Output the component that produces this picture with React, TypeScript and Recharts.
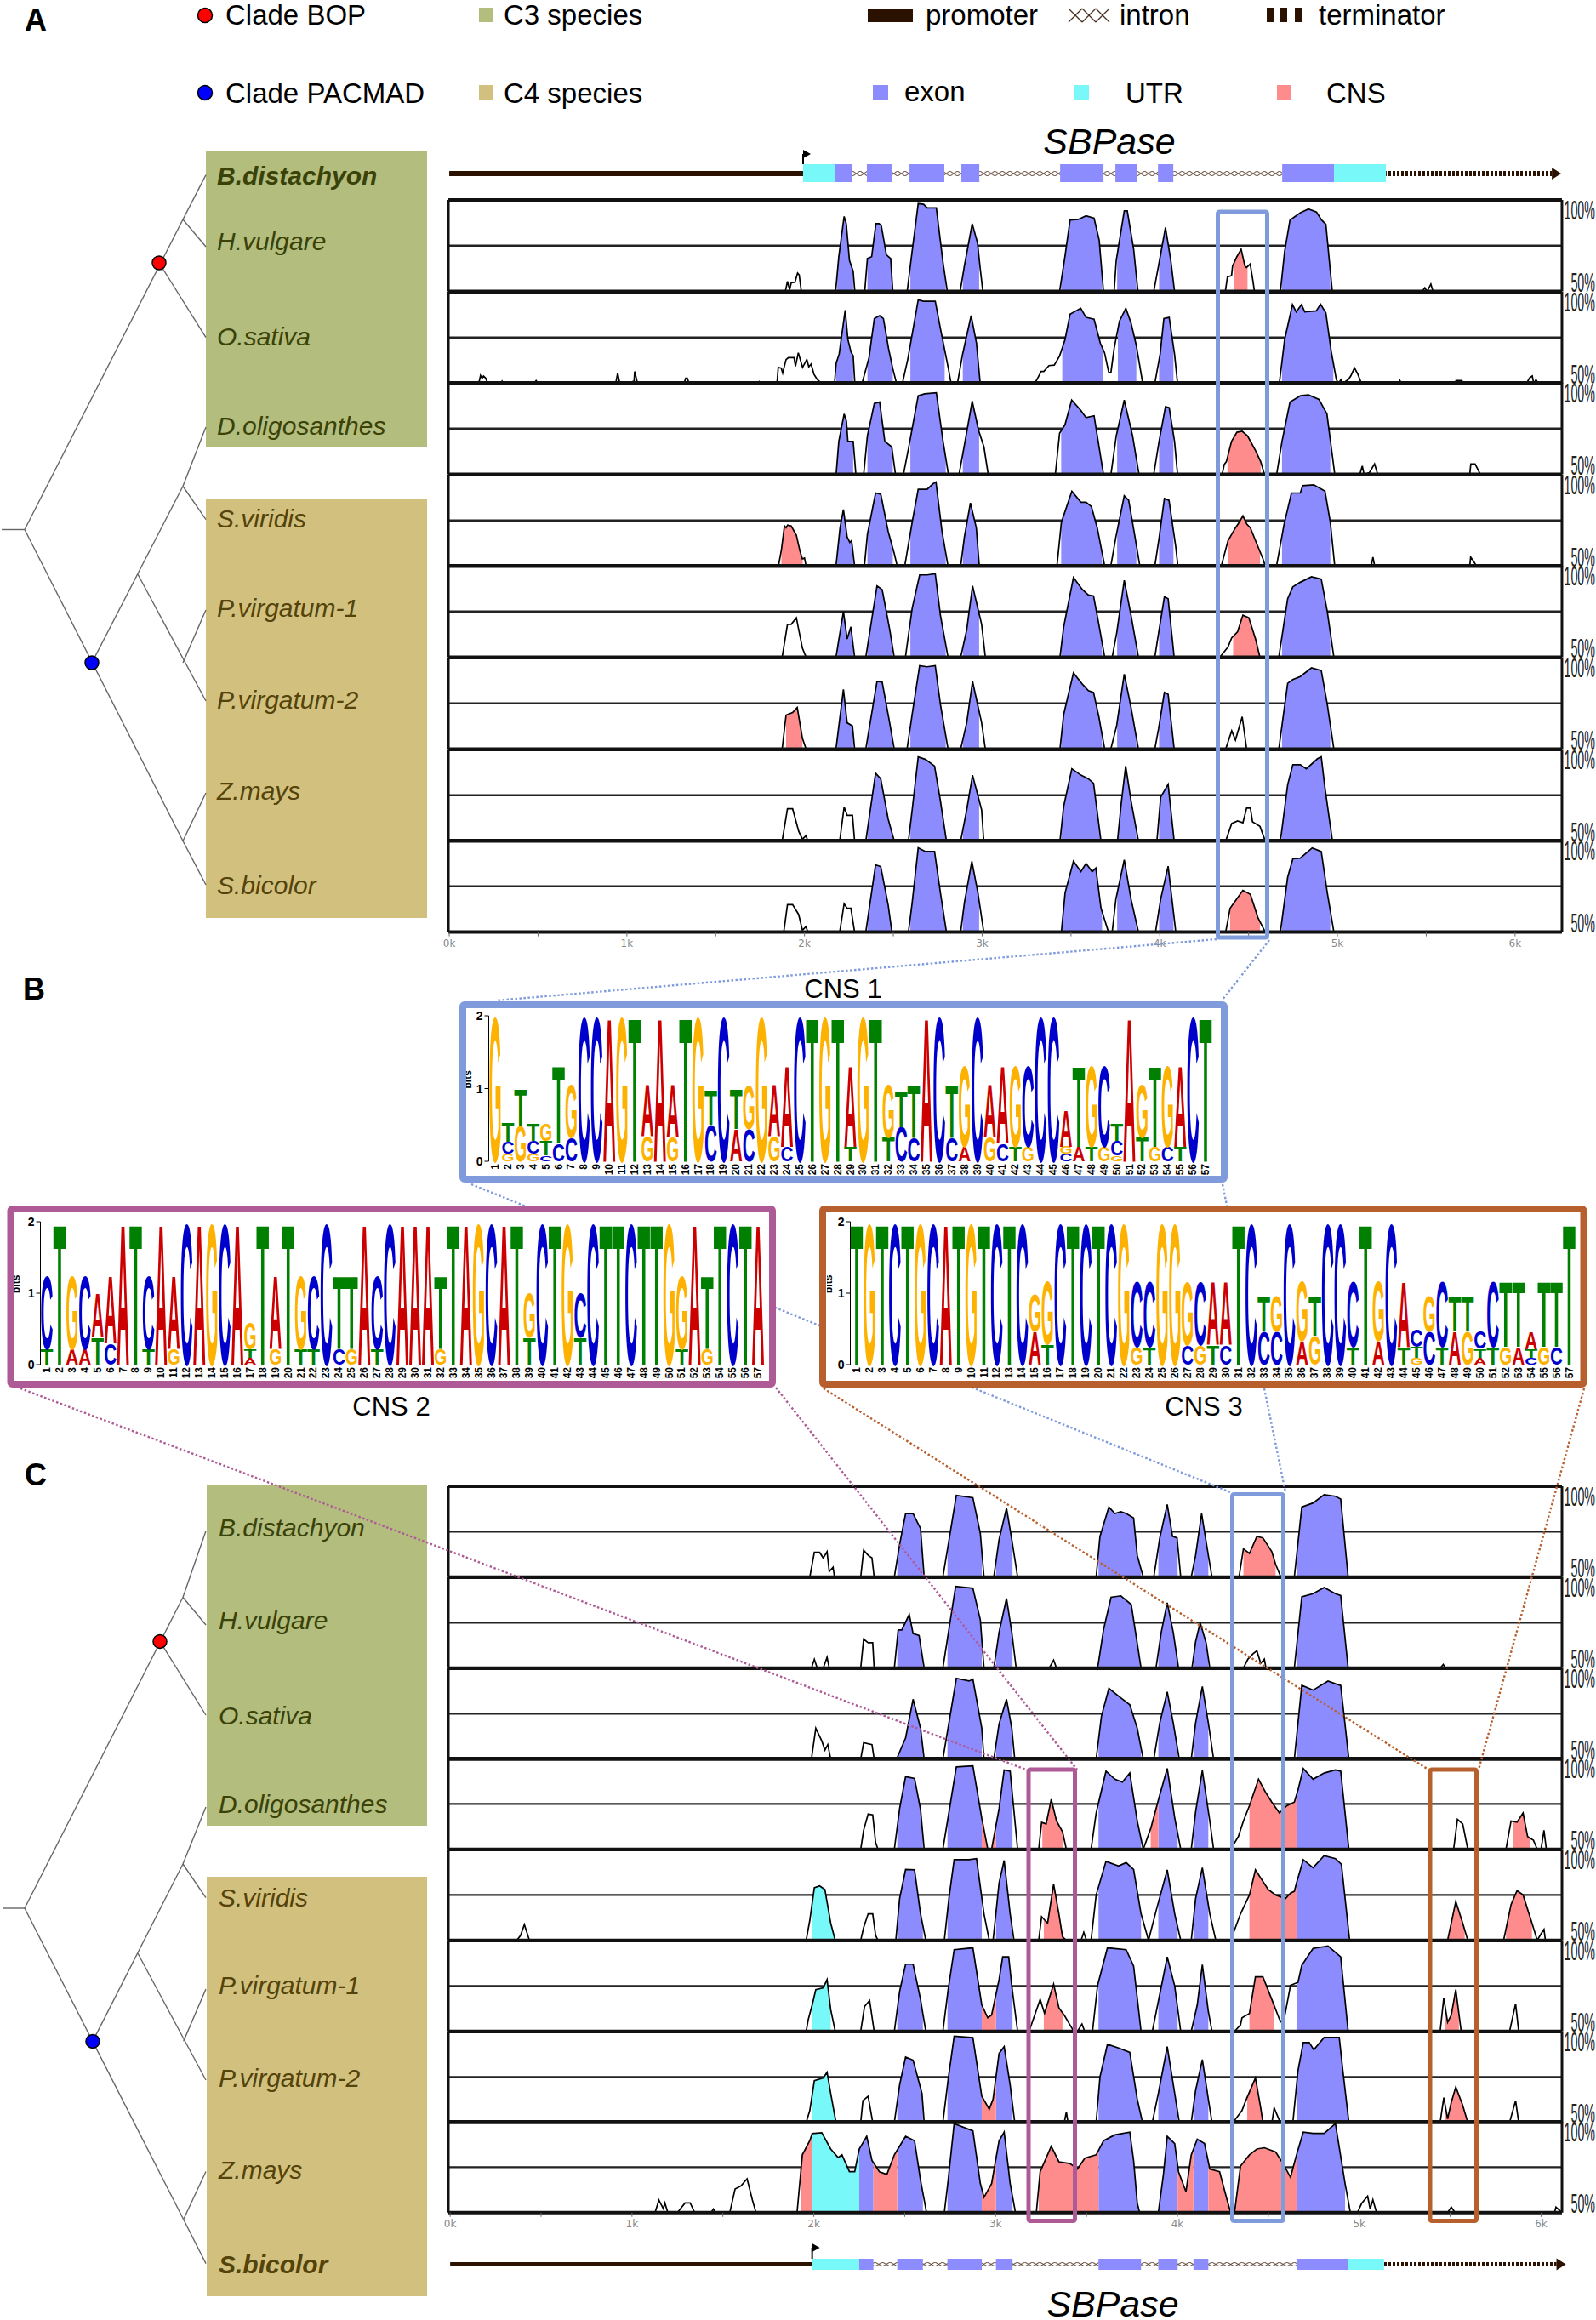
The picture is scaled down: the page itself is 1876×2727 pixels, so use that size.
import { ComposedChart, BarChart, Bar, Area, Line, XAxis, YAxis, CartesianGrid, ReferenceLine, ReferenceArea, ReferenceDot } from 'recharts';

const FONT = '"Liberation Sans", Arial, sans-serif';
const EXON = '#8c8cff';
const CNS = '#ff8c8c';
const UTR = '#78f8f8';
const BLUE = '#7f9bdc';
const PURPLE = '#ad5a96';
const BROWN = '#b85f2e';
const C3 = '#b3bd7e';
const C4 = '#d2c17e';
const DARK = '#2b1100';

// --- panel A curves: [position in bp, % identity]
const aHvulgare = [[1892,50],[1904,55.5],[1916,51],[1925,54.7],[1946,55],[1961,60],[1970,59],[1982,50],[2175,50],[2193,69],[2223,91],[2235,87],[2253,67],[2274,61],[2283,50],[2339,50],[2354,68],[2378,69],[2402,87],[2420,87],[2432,86],[2461,70],[2485,68],[2497,50],[2578,50],[2602,69],[2640,98],[2670,97.6],[2691,95.6],[2742,95.6],[2780,65.6],[2804,50],[2876,50],[2900,64],[2944,87],[2974,76.5],[2989,62.5],[3004,50],[3436,50],[3466,69],[3495,89],[3540,89.3],[3585,91.3],[3630,90],[3659,78],[3683,50],[3743,50],[3755,67],[3800,94],[3817,94],[3853,73],[3877,50],[3966,50],[3993,64],[4032,85],[4062,67],[4083,50],[4369,50],[4381,58],[4404,58.6],[4410,64],[4434,69],[4458,73],[4479,64],[4488,63],[4509,65],[4524,56],[4533,50],[4679,50],[4703,72],[4733,89],[4792,93],[4837,95],[4882,93.4],[4911,89],[4935,86.7],[4971,50],[5477,50],[5492,52],[5505,50],[5526,54],[5538,50]];
const aOsativa = [[166,50],[176,54.3],[185,52.8],[193,54],[205,52.8],[217,50],[290,50],[297,51.2],[303,50],[478,50],[489,51.5],[500,50],[937,50],[948,55.6],[960,50],[1028,50],[1034,51],[1040,50.5],[1044,56.5],[1060,50],[1322,50],[1331,52.8],[1340,52.8],[1350,50],[1735,50],[1745,51],[1755,50],[1845,50],[1852,58.7],[1869,58.3],[1877,55.6],[1896,63],[1909,64],[1941,64],[1949,59.3],[1965,66.7],[1989,58.7],[2013,63],[2024,59],[2037,60.5],[2053,55],[2072,52],[2085,51],[2105,50],[2169,50],[2178,61],[2195,66],[2229,90],[2244,74],[2262,67],[2274,65],[2283,50],[2324,50],[2363,64],[2393,85.4],[2423,87],[2444,85.4],[2473,69],[2497,58],[2518,50],[2551,50],[2581,63],[2640,95.6],[2670,94.8],[2736,94.8],[2765,80],[2810,58],[2825,50],[2861,50],[2890,66],[2938,87],[2968,72],[2989,50],[3296,50],[3308,52],[3332,56.5],[3347,56.5],[3376,59.7],[3406,60],[3436,65],[3466,73.7],[3495,87.8],[3555,91],[3585,86],[3630,85],[3665,72],[3689,66.7],[3713,55.8],[3725,56],[3743,69],[3773,84],[3809,91],[3838,83],[3868,70.6],[3904,50],[3972,50],[4002,66],[4023,85.4],[4053,86],[4083,66],[4100,50],[4673,50],[4703,74],[4747,93],[4768,89],[4798,93],[4816,89],[4881,89.6],[4905,93.2],[4935,88.5],[4965,67.5],[4994,52],[5006,50],[5020,52],[5030,50],[5060,52],[5075,54],[5096,58.4],[5115,55],[5135,50],[5345,50],[5352,51.5],[5360,50],[5662,50],[5668,51.5],[5700,51.5],[5712,50],[6065,50],[6082,53],[6097,54],[6105,50],[6118,52],[6130,50]];
const aDoligosanthes = [[2178,50],[2193,68],[2223,83],[2236,79],[2244,68],[2274,68],[2289,50],[2333,50],[2354,71],[2393,88.8],[2423,89.5],[2452,68],[2491,65],[2512,50],[2557,50],[2587,65],[2640,93],[2676,94],[2742,94.6],[2780,68],[2810,50],[2870,50],[2900,66],[2944,90],[2980,74],[3010,65],[3034,50],[3412,50],[3436,72.5],[3466,77],[3504,90.6],[3555,85],[3585,81],[3630,82],[3683,50],[3725,50],[3755,71],[3800,90.6],[3847,71],[3883,50],[3966,50],[3996,68],[4032,87],[4053,86.4],[4083,68],[4100,50],[4351,50],[4363,55.4],[4375,57],[4404,68],[4434,73],[4464,73.5],[4494,71],[4539,63],[4568,57],[4589,50],[4658,50],[4688,68],[4733,89.5],[4792,93],[4837,93.4],[4896,91],[4941,83],[4985,50],[5126,50],[5140,54.6],[5150,50],[5180,51],[5209,55.7],[5227,50],[5745,50],[5751,55.7],[5775,55.7],[5805,50]];
const aSviridis = [[1853,50],[1870,59],[1887,72],[1896,71],[1905,72.5],[1925,72],[1954,67],[1975,58],[1988,54],[2000,54.5],[2009,50],[2177,50],[2200,71],[2219,81],[2240,66],[2255,63],[2265,64],[2282,50],[2337,50],[2354,67.4],[2400,90],[2429,89.4],[2471,69],[2505,57],[2522,50],[2564,50],[2606,74],[2640,92],[2690,92],[2723,95],[2740,96],[2774,69],[2808,50],[2879,50],[2900,66],[2934,84.6],[2967,71],[2984,50],[3421,50],[3446,74],[3505,91],[3556,85],[3585,85],[3615,82.6],[3648,71],[3690,50],[3724,50],[3753,66],[3800,88.5],[3825,86],[3858,67.4],[3888,50],[3972,50],[3997,66],[4026,87],[4052,86],[4090,60.6],[4102,50],[4346,50],[4384,64],[4426,71],[4447,74],[4468,77.5],[4490,73],[4510,71],[4539,64],[4581,54],[4594,50],[4657,50],[4699,72.5],[4741,90],[4791,90],[4804,94],[4867,94.5],[4930,91],[4960,74],[4985,50],[5190,50],[5200,55],[5210,50],[5745,50],[5750,55],[5765,53],[5780,50.5],[5800,50.5],[5810,50]];
const aPvirgatum1 = [[1874,50],[1904,68],[1925,68],[1954,71.6],[1988,55],[2009,50],[2177,50],[2219,75],[2240,60],[2261,66.6],[2282,50],[2345,50],[2408,89],[2437,87],[2480,65],[2505,50],[2568,50],[2606,76.7],[2648,95],[2690,95],[2736,95.6],[2765,73],[2808,50],[2879,50],[2913,65],[2946,89],[2997,68],[3018,50],[3438,50],[3459,66.6],[3514,93.6],[3564,87],[3598,84],[3627,83.5],[3657,68],[3690,50],[3732,50],[3757,63],[3800,92],[3838,73],[3880,50],[3972,50],[3993,63],[4026,83],[4047,82],[4081,50],[4342,50.5],[4384,55.6],[4405,60.6],[4438,64],[4468,73],[4501,71.6],[4539,60],[4564,50],[4670,50],[4720,82],[4749,88.5],[4791,91],[4854,94],[4909,92.7],[4943,75],[4980,50]];
const aPvirgatum2 = [[1874,50],[1896,68.6],[1933,70],[1959,72.8],[1988,56],[2009,50],[2177,50],[2219,82.6],[2240,64.4],[2270,62.7],[2282,50],[2345,50],[2408,87],[2437,86.7],[2480,64],[2505,50],[2577,50],[2606,69],[2648,95.6],[2690,95],[2736,95.6],[2765,74.5],[2808,50],[2879,50],[2913,64.4],[2946,87],[2997,64.4],[3018,50],[3438,50],[3459,69],[3514,91.7],[3564,85.5],[3598,82],[3627,81],[3657,67.7],[3690,50],[3724,50],[3757,62.7],[3800,91],[3838,72.8],[3880,50],[3972,50],[3993,61],[4026,81],[4047,80],[4081,50],[4371,50],[4405,60],[4426,55],[4464,67.7],[4489,50],[4670,50],[4720,86],[4749,88],[4791,89.7],[4854,94.4],[4909,93],[4943,74.5],[4980,50]];
const aZmays = [[1874,50],[1904,67.6],[1933,67.6],[1967,55.4],[1988,51],[2009,53],[2018,50],[2198,50],[2223,68.6],[2240,64],[2270,64],[2282,50],[2345,50],[2400,87],[2429,84],[2471,62],[2505,50],[2585,50],[2606,67],[2640,96],[2681,94.6],[2732,91],[2765,72],[2799,50],[2879,50],[2913,67],[2946,86],[2997,67],[3009,50],[3438,50],[3459,69],[3505,89.5],[3556,86],[3598,84],[3627,81.6],[3669,50],[3762,50],[3783,70.6],[3808,91],[3838,72],[3880,50],[3984,50],[4005,74],[4047,81],[4081,50],[4371,50],[4405,59.6],[4438,61],[4468,60],[4489,68],[4510,68],[4522,60.5],[4564,58],[4594,50],[4679,50],[4720,80.8],[4749,91.7],[4791,91.7],[4825,89.5],[4888,95],[4909,96],[4930,79],[4972,50]];
const aSbicolor = [[1883,50],[1904,65],[1933,65],[1967,59.6],[1988,51],[2009,53],[2018,50],[2198,50],[2223,65.5],[2240,63],[2261,63],[2282,50],[2345,50],[2400,86.7],[2429,85.8],[2471,64.7],[2492,50],[2585,50],[2606,66],[2640,96],[2681,94],[2732,94],[2765,71.5],[2799,50],[2879,50],[2900,66],[2942,88.7],[2976,71.5],[3009,50],[3446,50],[3467,71.5],[3514,88.7],[3556,83],[3585,87.5],[3619,83],[3640,85],[3669,63],[3711,50],[3732,50],[3753,68],[3800,89.5],[3838,68],[3880,50],[3976,50],[4005,68],[4047,86],[4090,50],[4371,50],[4396,63],[4468,72.8],[4510,70.6],[4552,58],[4594,50],[4679,50],[4720,80],[4749,90],[4791,90.4],[4858,96],[4909,94],[4943,71.5],[4980,50]];

// --- panel C curves
const cBdistachyon = [[1978,50],[2003,63.6],[2032,63.6],[2052,60.5],[2073,64],[2085,53],[2106,55.4],[2114,50],[2258,50],[2274,64.8],[2299,62],[2320,60.5],[2332,50],[2443,50],[2472,68],[2505,85],[2546,85],[2587,76.7],[2607,50],[2710,50],[2784,95],[2875,93.7],[2916,74],[2936,50],[2990,50],[3019,70.7],[3060,88],[3089,70.7],[3121,50],[3553,50],[3574,72.4],[3623,88.6],[3656,85],[3689,86],[3718,85],[3759,82.6],[3779,62],[3812,50],[3870,50],[3903,71.6],[3944,90],[3973,72.4],[3998,71.6],[4018,50],[4076,50],[4100,62],[4133,85],[4170,62],[4190,50],[4339,50],[4363,65.6],[4396,63],[4437,72.4],[4470,71.6],[4519,64],[4540,57],[4569,50],[4643,50],[4684,88.6],[4746,90.8],[4807,95.4],[4869,94.5],[4898,93],[4939,50]];
const cHvulgare = [[1987,50],[2003,54.8],[2019,50],[2052,50],[2073,56],[2085,50],[2258,50],[2274,66],[2299,64],[2324,64],[2332,50],[2443,50],[2464,71],[2484,71],[2525,79.5],[2546,69],[2579,68],[2607,50],[2710,50],[2780,95],[2875,94],[2916,76.5],[2936,50],[2990,50],[3019,69.7],[3060,88.4],[3089,69.7],[3113,50],[3295,50],[3319,54.4],[3335,50],[3561,50],[3594,71.4],[3635,89],[3689,89.8],[3746,85],[3800,50],[3882,50],[3911,69.7],[3944,86],[3977,69.7],[4006,50],[4080,50],[4100,64.6],[4125,75],[4158,63.8],[4178,50],[4363,50],[4388,55],[4417,58],[4437,59.5],[4458,52.7],[4478,55],[4487,50],[4643,50],[4684,89.3],[4746,91],[4807,94.4],[4869,91],[4898,90],[4939,50],[5445,50],[5462,52],[5475,50]];
const cOsativa = [[1987,50],[2011,67],[2044,60],[2061,55],[2077,58],[2093,50],[2258,50],[2274,59],[2320,58],[2332,50],[2455,50],[2505,61.7],[2546,83],[2587,67],[2607,50],[2710,50],[2784,94.5],[2854,93],[2875,94],[2924,67],[2936,50],[2990,50],[3019,69.4],[3060,83],[3089,67],[3105,50],[3553,50],[3582,73.6],[3623,89],[3676,84.7],[3738,80],[3779,67],[3812,50],[3870,50],[3903,70],[3944,87],[3977,70],[4010,50],[4076,50],[4100,70],[4137,90],[4170,70],[4199,50],[4643,50],[4684,90.6],[4746,88],[4828,93],[4869,91.5],[4898,90.6],[4943,50]];
const cDoligosanthes = [[2258,50],[2274,60.5],[2299,69.4],[2324,69],[2340,53.7],[2353,50],[2443,50],[2472,72.4],[2505,90],[2554,89],[2587,72],[2607,50],[2710,50],[2784,95.4],[2875,96],[2924,67],[2957,50],[2978,50],[3019,72.4],[3047,93.7],[3080,93],[3121,50],[3237,50],[3253,64.8],[3278,64],[3306,77.5],[3335,65.6],[3368,59.7],[3389,50],[3525,50],[3553,70],[3607,93],[3656,88.6],[3697,87],[3738,92],[3779,65.6],[3812,50],[3853,61.4],[3903,80],[3944,94.5],[3985,67.4],[4018,50],[4076,50],[4100,70.7],[4137,93.4],[4178,65.6],[4199,50],[4293,50],[4335,57],[4363,65.6],[4396,74],[4446,88.6],[4487,81],[4519,76],[4561,70],[4602,74],[4643,76],[4663,82.6],[4692,94.5],[4746,88.6],[4807,92],[4869,93.7],[4898,93],[4943,50],[5519,50],[5540,66.5],[5569,64],[5597,50],[5807,50],[5835,65.6],[5868,65],[5901,70],[5926,57],[5958,55],[5979,50],[6000,50],[6016,60.5],[6029,50]];
const cSviridis = [[366,50],[387,52.7],[408,58.7],[436,50],[1958,50],[1978,61],[2003,79],[2032,80],[2061,78],[2093,59.5],[2118,50],[2258,50],[2274,57],[2299,64.6],[2324,64.6],[2340,52.7],[2353,50],[2451,50],[2472,73],[2505,89],[2554,88.8],[2587,64.6],[2616,50],[2718,50],[2743,73],[2772,94.4],[2854,94.4],[2895,95],[2936,64.6],[2965,50],[2986,50],[3019,81.6],[3047,94],[3080,64.6],[3101,50],[3237,50],[3253,63],[3286,59.5],[3319,81],[3348,64.6],[3368,52],[3389,50],[3470,50],[3485,54.4],[3500,50],[3525,50],[3553,75],[3607,93.5],[3676,91],[3718,92.8],[3759,89],[3800,64.6],[3841,50],[3882,66],[3944,88.8],[3985,64.6],[4018,50],[4076,50],[4100,73],[4137,90],[4178,64.6],[4211,50],[4293,50],[4347,64.6],[4396,75],[4429,88.8],[4499,78],[4540,75],[4594,73],[4622,76],[4643,77],[4655,81.6],[4692,94.4],[4746,90],[4807,96.6],[4869,95],[4902,91.8],[4947,50],[5486,50],[5531,71.4],[5569,59.5],[5597,50],[5794,50],[5835,69.7],[5868,77.4],[5901,75],[5950,59.5],[5979,50],[6000,53.6],[6016,56],[6024,50]];
const cPvirgatum1 = [[1958,50],[1970,56.7],[1991,64.5],[2011,73],[2052,74],[2073,78.5],[2093,62],[2118,50],[2258,50],[2279,63.7],[2307,67],[2332,50],[2443,50],[2472,72],[2505,87],[2546,87],[2587,67.6],[2616,50],[2710,50],[2739,73],[2772,95],[2875,96],[2924,64.5],[2957,57.5],[2978,59],[3019,78.5],[3039,91],[3072,91],[3089,75],[3121,50],[3184,50],[3245,67.6],[3269,60],[3319,76],[3348,63],[3377,59],[3409,53.6],[3430,50],[3450,50],[3475,54],[3490,50],[3533,50],[3561,75.4],[3615,96],[3718,95],[3759,86],[3800,50],[3862,50],[3882,60],[3944,91],[3985,75],[4018,50],[4076,50],[4109,64.5],[4137,86.7],[4170,61],[4190,50],[4314,50],[4347,53.6],[4355,57.5],[4396,59.8],[4429,80],[4470,80],[4519,67.6],[4561,56.7],[4581,53.6],[4622,75.4],[4663,77],[4684,86.4],[4746,95.7],[4828,97],[4898,91],[4939,50],[5445,50],[5465,68.4],[5486,55],[5506,59],[5531,73],[5560,50.5],[5570,50],[5827,50],[5860,65.3],[5877,50]];
const cPvirgatum2 = [[1958,50],[1978,56.5],[2003,73],[2052,74.5],[2073,77.6],[2093,66],[2122,50],[2258,50],[2270,62],[2299,64.4],[2324,50],[2443,50],[2472,70.6],[2505,86],[2546,84.3],[2595,66],[2607,50],[2710,50],[2739,73.7],[2772,97.5],[2875,96.7],[2924,64.4],[2965,57.3],[2986,62.8],[3019,88],[3047,91.7],[3080,70.6],[3105,50],[3378,50],[3389,55.8],[3398,50],[3553,50],[3574,75],[3615,93],[3676,91],[3738,88.6],[3779,62.8],[3808,50],[3862,50],[3895,66],[3944,91.7],[3985,66],[4010,50],[4076,50],[4100,67.6],[4137,84.6],[4170,62.8],[4190,50],[4306,50],[4355,56.5],[4376,62],[4429,74.5],[4458,58],[4470,50],[4520,50],[4532,58],[4561,51],[4570,50],[4635,50],[4663,78.4],[4692,94],[4725,94],[4750,90],[4807,96.8],[4890,96.8],[4910,78.4],[4943,50],[5445,50],[5465,63.6],[5486,52],[5506,61],[5531,69.5],[5568,59.7],[5597,50],[5827,50],[5860,62],[5877,50]];
const cZmays = [[1127,50],[1148,56.9],[1172,52.2],[1181,55.3],[1197,50],[1250,50],[1292,55.3],[1320,55.3],[1345,50],[1435,50],[1448,52],[1460,50],[1538,50],[1567,63],[1600,64.7],[1633,68.6],[1662,57],[1682,50],[1908,50],[1937,81.8],[1978,89.6],[1991,93.5],[2044,94],[2093,85],[2134,80.3],[2155,81.8],[2196,72.5],[2225,72.5],[2250,85],[2291,92],[2320,78.7],[2361,72.5],[2402,71],[2443,81.8],[2505,92],[2554,89.6],[2587,67.8],[2620,50],[2718,50],[2739,67.8],[2772,99],[2875,95],[2916,66],[2936,58.4],[2978,66],[3019,89.6],[3047,94.3],[3080,66],[3109,50],[3224,50],[3245,72.5],[3306,86.5],[3348,78],[3409,77],[3450,74],[3491,80],[3553,81.8],[3594,89.6],[3656,92.8],[3738,94.3],[3759,78.7],[3779,55.3],[3792,50],[3895,50],[3923,71],[3944,92],[3985,88],[4006,72.5],[4047,61.5],[4076,81.8],[4109,90.4],[4149,88],[4178,74],[4232,72.5],[4273,57],[4293,50],[4314,50],[4347,75.6],[4396,81.8],[4437,85],[4478,85.7],[4540,83.4],[4581,77],[4622,69.4],[4655,81.8],[4692,94.3],[4746,93.6],[4807,93.6],[4869,99],[4922,66],[4951,50],[4990,50],[5013,55],[5046,59],[5060,52],[5075,57],[5095,50],[5486,50],[5506,53],[5527,50],[6074,50],[6082,53],[6115,50]];

// --- coloured bands along each curve [from bp, to bp]
const aExons = [[2184,2274],[2354,2497],[2596,2795],[2891,2983],[3445,3675],[3760,3868],[3996,4077],[4688,4960]];
const aExonsNoFirst = [[2354,2497],[2596,2795],[2891,2983],[3445,3675],[3760,3868],[3996,4077],[4688,4960]];
const aOsativaExons = [[2178,2274],[2354,2497],[2596,2789],[2891,2989],[3451,3680],[3764,3868],[3996,4077],[4688,4977]];
const cExons = [[2459,2600],[2735,2924],[3002,3093],[3566,3800],[3895,4001],[4088,4170],[4655,4939]];
const cZmaysExons = [[2250,2328],[2459,2600],[2735,2924],[3002,3093],[3566,3792],[3895,4001],[4088,4170],[4655,4922]];

const aRows = [
  { curve: aHvulgare, exon: aExons, cns: [[4416,4494]], utr: [] },
  { curve: aOsativa, exon: aOsativaExons, cns: [], utr: [] },
  { curve: aDoligosanthes, exon: aExons, cns: [[4381,4568]], utr: [] },
  { curve: aSviridis, exon: aExons, cns: [[1870,1990],[4384,4564]], utr: [] },
  { curve: aPvirgatum1, exon: aExons, cns: [[4413,4564]], utr: [] },
  { curve: aPvirgatum2, exon: aExons, cns: [[1896,1988]], utr: [] },
  { curve: aZmays, exon: aExonsNoFirst, cns: [], utr: [] },
  { curve: aSbicolor, exon: aExonsNoFirst, cns: [[4396,4564]], utr: [] },
];
const cRows = [
  { curve: cBdistachyon, exon: cExons, cns: [[4363,4540]], utr: [] },
  { curve: cHvulgare, exon: cExons, cns: [], utr: [] },
  { curve: cOsativa, exon: cExons, cns: [], utr: [] },
  { curve: cDoligosanthes, exon: cExons, cns: [[2924,2957],[2978,3002],[3257,3368],[3853,3895],[4396,4655],[5844,5938]], utr: [] },
  { curve: cSviridis, exon: cExons, cns: [[3265,3368],[4396,4655],[5486,5580],[5807,5950]], utr: [[1991,2114]] },
  { curve: cPvirgatum1, exon: cExons, cns: [[2924,3002],[3265,3368],[4396,4532],[5473,5548]], utr: [[1991,2093]] },
  { curve: cPvirgatum2, exon: cExons, cns: [[2924,3002],[4384,4470],[5473,5590]], utr: [[1991,2122]] },
  { curve: cZmays, exon: cZmaysExons, cns: [[1929,1991],[2328,2459],[2924,3002],[3237,3566],[4001,4088],[4170,4293],[4314,4655]], utr: [[1991,2250]] },
];

// --- gene models, bp
const geneAExons = [[2170,2270],[2351,2490],[2591,2787],[2883,2984],[3439,3683],[3750,3870],[3990,4076],[4689,4981]];
const geneAUtrs = [[1992,2170],[4981,5273]];
const geneCExons = [[2250,2328],[2459,2600],[2735,2924],[3002,3093],[3566,3800],[3895,4001],[4088,4170],[4655,4939]];
const geneCUtrs = [[1991,2250],[4939,5136]];

// --- sequence logos: one string per position, letters bottom to top with their height in bits
const cns1Stacks = ['G2','G.1 C.17 T.26','G.49 T.51','G.1 C.18 T.24','C.08 T.2 G.25','C.25 T1.08','C.33 G.74','C2','C2','A2','G2','T2','G.35 A.72','A2','G.33 A.74','T2','G2','C.5 T.47','C2','A.45 T.55','C.45 G.6','G2','G.35 A.72','C.2 A1.13','C2','T2','G2','T2','T.2 A1.13','G2','T2','T.33 G.74','C.47 T.5','C.33 T.74','A2','C2','C.33 T.74','A.2 G1.13','C2','G.33 A.74','C.25 A1.08','T.2 G1.13','G.2 C1.13','C2','C2','C.1 G.1 A.5','A.2 T1.13','T.2 G1.13','G.2 C1.13','G.08 C.2 T.25','A2','T.33 G.74','G.2 T1.13','C.2 G1.13','T.2 A1.13','C2','T2'];
const cns2Stacks = ['T.22 C1.03','T2','A.22 G1.03','A.22 C1.03','T.38 A.62','C.3 A.95','A2','T2','T.22 C1.03','A2','G.22 A1.03','C2','A2','G2','C2','A2','A.1 T.12 G.38','T2','G.22 A1.03','T2','T.22 G1.03','T.22 C1.03','C2','C.22 T1.03','G.22 T1.03','A2','T.22 C1.03','C2','A2','A2','A2','G.22 T1.03','T2','A2','G2','C2','A2','T2','T.38 G.62','C2','T2','G2','T.38 C.62','C2','T2','T2','C2','T2','T2','G2','T.22 G1.03','A2','G.22 T1.03','T2','C2','T2','A2'];
const cns3Stacks = ['T2','G2','T2','C2','T2','G2','C2','A2','T2','G2','T2','C2','T2','C2','A.47 G.53','T.28 G.9','C2','T2','C2','T2','C2','G2','G.25 C.92','T.25 C.92','G2','G2','C.27 G.9','G.27 C.9','T.27 A.9','C.27 A.9','T2','C2','C.47 T.5','C.47 G.5','C2','A.33 G.85','G.4 T.57','C2','C2','T.25 C.92','T2','A.33 G.85','C2','T.25 A.92','G.1 T.15 C.25','C.47 G.5','T.25 C.92','A.47 T.5','G.47 T.5','A.1 T.13 C.25','T.25 C.92','G.25 T.92','A.25 T.92','C.1 T.12 A.25','G.25 T.92','C.25 T.92','T2'];

// --- tree branches, page coordinates
const treeA = [[2,622.5,29,622.5],[29,622.5,215,258],[215,258,242,205.6],[215,258,242,290],[187,309,242,396.6],[29,622.5,215,988.5],[108,779,215,571.5],[215,571.5,242,502],[215,571.5,242,610.7],[162,675,242,824],[215,779,242,717],[215,988.5,242,1040],[215,988.5,242,932]];
const treeC = [[3,2243,29,2243],[29,2243,215,1877.5],[215,1877.5,242,1799.4],[215,1877.5,242,1910],[188,1929.4,242,2016],[29,2243,215.7,2608.8],[109,2399.4,215,2191],[215,2191,242,2124],[215,2191,242,2230.6],[162,2296,242,2445],[215.7,2399.4,242,2338],[215.7,2608.8,242,2552.5],[215.7,2608.8,242,2660.6]];
const speciesA = [['B.distachyon',207,1],['H.vulgare',284,0],['O.sativa',396,0],['D.oligosanthes',501,0],['S.viridis',610,0],['P.virgatum-1',714.5,0],['P.virgatum-2',822.5,0],['Z.mays',930,0],['S.bicolor',1041,0]];
const speciesC = [['B.distachyon',1796,0],['H.vulgare',1905,0],['O.sativa',2017,0],['D.oligosanthes',2121,0],['S.viridis',2230.6,0],['P.virgatum-1',2334,0],['P.virgatum-2',2443,0],['Z.mays',2551,0],['S.bicolor',2662,1]];

// dotted lines from the highlight boxes to the logos
const blueLinks = [[1430,1104,583,1176],[1492,1105,1437,1175],[554,1392,1446,1754],[1437,1392,1511,1754]];
const purpleLinks = [[24,1632,1206,2080],[912,1631,1266,2080]];
const brownLinks = [[968,1632,1679,2080],[1862,1632,1738,2080]];

const kTicks = [0,500,1000,1500,2000,2500,3000,3500,4000,4500,5000,5500,6000];
const pctTicks = [50,100];
const bitsTicks = [0,1,2];

const LETTER_COLOR: any = { A: '#cc0000', C: '#0000cc', G: '#fdb100', T: '#008000' };
const LETTER_WIDTH: any = { A: 72.2, C: 72.2, G: 77.8, T: 61.1 };

const ROW_LEFT = 507;
const ROW_WIDTH = 1369;

function valueAt(curve: number[][], x: number) {
  for (let i = 1; i < curve.length; i++) {
    if (x <= curve[i][0] && x >= curve[i - 1][0]) {
      const [x0, y0] = curve[i - 1];
      const [x1, y1] = curve[i];
      return x1 === x0 ? y1 : y0 + ((y1 - y0) * (x - x0)) / (x1 - x0);
    }
  }
  return 50;
}

const inBand = (bands: number[][], x: number) => bands.some(([a, b]) => x >= a && x <= b);

function buildRow(row: any) {
  const xs = new Set<number>(row.curve.map((p: number[]) => p[0]));
  [...row.exon, ...row.cns, ...row.utr].forEach(([a, b]: number[]) => { xs.add(a); xs.add(b); });
  return [...xs].sort((a, b) => a - b).map((x) => {
    const y = valueAt(row.curve, x);
    return {
      x, y,
      exon: inBand(row.exon, x) ? y : null,
      cns: inBand(row.cns, x) ? y : null,
      utr: inBand(row.utr, x) ? y : null,
    };
  });
}

function buildLogo(stacks: string[]) {
  return stacks.map((s, i) => {
    const row: any = { pos: i + 1 };
    s.split(' ').forEach((part, j) => {
      row['l' + j] = part[0];
      row['h' + j] = parseFloat(part.slice(1));
    });
    return row;
  });
}

const PctTick = ({ y, payload }: any) => (
  <text transform={`translate(${ROW_WIDTH - 1},${payload.value === 100 ? y + 23 : y}) scale(0.46,1)`} textAnchor="end" fontSize={31} fontFamily={FONT} fill="#222">
    {payload.value}%
  </text>
);

const KTick = ({ x, y, payload }: any) =>
  payload.value % 1000 === 0 ? (
    <text x={x} y={y + 10} textAnchor="middle" fontSize={12} fontFamily='"DejaVu Sans"' fill="#888">
      {payload.value / 1000}k
    </text>
  ) : <g />;

// one VISTA track
const Track = ({ row, top, height, domain, last }: any) => (
  <div style={{ position: 'absolute', left: ROW_LEFT, top: top - 3 }}>
    <ComposedChart width={ROW_WIDTH} height={height + 6 + (last ? 27 : 0)} data={buildRow(row)} margin={{ top: 3, right: 0, bottom: 3, left: 20 }}>
      <CartesianGrid vertical={false} horizontalValues={[75]} stroke="#222" strokeWidth={2.4} />
      <XAxis dataKey="x" type="number" domain={domain} hide={!last} ticks={kTicks} tick={KTick} tickSize={5} height={27} stroke="#666" axisLine={false} interval={0} />
      <YAxis type="number" domain={[50, 100]} ticks={pctTicks} orientation="right" width={40} axisLine={false} tickLine={false} tick={PctTick} interval={0} />
      <Area dataKey="exon" type="linear" fill={EXON} fillOpacity={1} stroke="none" baseValue={50} isAnimationActive={false} dot={false} activeDot={false} />
      <Area dataKey="cns" type="linear" fill={CNS} fillOpacity={1} stroke="none" baseValue={50} isAnimationActive={false} dot={false} activeDot={false} />
      <Area dataKey="utr" type="linear" fill={UTR} fillOpacity={1} stroke="none" baseValue={50} isAnimationActive={false} dot={false} activeDot={false} />
      <Line dataKey="y" type="linear" stroke="#000" strokeWidth={1.7} dot={false} activeDot={false} isAnimationActive={false} />
      <ReferenceLine y={100} stroke="#111" strokeWidth={4} ifOverflow="visible" />
      <ReferenceLine y={50} stroke="#111" strokeWidth={4} ifOverflow="visible" />
      <ReferenceLine x={domain[0]} stroke="#111" strokeWidth={3} ifOverflow="visible" />
      <ReferenceLine x={domain[1]} stroke="#111" strokeWidth={3} ifOverflow="visible" />
    </ComposedChart>
  </div>
);

// promoter, exons, UTRs, introns, terminator on the same bp scale as the tracks
const GeneModel = ({ id, top, domain, exons, utrs, tss, introEnd, termStart, termEnd, boxTop, boxBottom, barTop, barBottom, tssTop }: any) => (
  <div style={{ position: 'absolute', left: ROW_LEFT, top }}>
    <ComposedChart width={ROW_WIDTH} height={48} data={[{ x: 0, y: 0 }, { x: 1, y: 0 }]} margin={{ top: 0, right: 40, bottom: 0, left: 20 }}>
      <defs>
        <pattern id={id + 'intron'} patternUnits="userSpaceOnUse" x={20} y={barTop} width={8.8} height={barBottom - barTop}>
          <path d={`M0 0L8.8 ${barBottom - barTop}M0 ${barBottom - barTop}L8.8 0`} stroke="#5a4030" strokeWidth={1} fill="none" />
        </pattern>
        <pattern id={id + 'term'} patternUnits="userSpaceOnUse" x={0} y={0} width={5} height={10}>
          <rect width={3} height={10} fill={DARK} />
        </pattern>
      </defs>
      <XAxis dataKey="x" type="number" domain={domain} hide />
      <YAxis type="number" domain={[0, 48]} reversed hide />
      <Line dataKey="y" stroke="none" dot={false} activeDot={false} isAnimationActive={false} />
      <ReferenceArea x1={0} x2={tss} y1={barTop} y2={barBottom} fill={DARK} fillOpacity={1} stroke="none" ifOverflow="visible" />
      <ReferenceArea x1={tss} x2={introEnd} y1={barTop} y2={barBottom} fill={`url(#${id}intron)`} fillOpacity={1} stroke="none" ifOverflow="visible" />
      <ReferenceArea x1={termStart} x2={termEnd} y1={barTop} y2={barBottom} fill={`url(#${id}term)`} fillOpacity={1} stroke="none" ifOverflow="visible" />
      {exons.map(([a, b]: number[]) => (
        <ReferenceArea key={a} x1={a} x2={b} y1={boxTop} y2={boxBottom} fill={EXON} fillOpacity={1} stroke="none" ifOverflow="visible" />
      ))}
      {utrs.map(([a, b]: number[]) => (
        <ReferenceArea key={a} x1={a} x2={b} y1={boxTop} y2={boxBottom} fill={UTR} fillOpacity={1} stroke="none" ifOverflow="visible" />
      ))}
      <ReferenceLine segment={[{ x: tss, y: boxTop }, { x: tss, y: tssTop }]} stroke="#000" strokeWidth={2} ifOverflow="visible" />
      <ReferenceDot x={tss} y={tssTop} ifOverflow="visible" shape={(p: any) => <path d={`M${p.cx} ${p.cy - 5}L${p.cx + 9} ${p.cy}L${p.cx} ${p.cy + 5}Z`} fill="#000" />} />
      <ReferenceDot x={termEnd} y={(barTop + barBottom) / 2} ifOverflow="visible" shape={(p: any) => <path d={`M${p.cx} ${p.cy - 7}L${p.cx + 11} ${p.cy}L${p.cx} ${p.cy + 7}Z`} fill={DARK} />} />
    </ComposedChart>
  </div>
);

// page sized chart whose axes are the page itself, for tree, legend and connectors
const Overlay = ({ children }: any) => (
  <div style={{ position: 'absolute', left: 0, top: 0, pointerEvents: 'none' }}>
    <ComposedChart width={1876} height={2727} data={[{ x: 0, y: 0 }, { x: 1, y: 0 }]} margin={{ top: 0, right: 0, bottom: 0, left: 0 }}>
      <XAxis dataKey="x" type="number" domain={[0, 1876]} hide />
      <YAxis type="number" domain={[0, 2727]} reversed hide />
      <Line dataKey="y" stroke="none" dot={false} activeDot={false} isAnimationActive={false} />
      {children}
    </ComposedChart>
  </div>
);

const seg = (s: number[], i: number, stroke: string, width: number, dash?: string) => (
  <ReferenceLine key={i} segment={[{ x: s[0], y: s[1] }, { x: s[2], y: s[3] }]} stroke={stroke} strokeWidth={width} strokeDasharray={dash} ifOverflow="visible" />
);

const box = (x1: number, x2: number, y1: number, y2: number, fill: string, key?: any) => (
  <ReferenceArea key={key ?? fill + x1 + y1} x1={x1} x2={x2} y1={y1} y2={y2} fill={fill} fillOpacity={1} stroke="none" ifOverflow="visible" />
);

const dot = (x: number, y: number, fill: string, r: number) => (
  <ReferenceDot key={`${x}-${y}`} x={x} y={y} r={r} fill={fill} fillOpacity={1} stroke="#000" strokeWidth={1.5} ifOverflow="visible" />
);

const frame = (x1: number, x2: number, y1: number, y2: number, stroke: string, width: number, fill = 'none') => (
  <ReferenceArea key={stroke + x1} x1={x1} x2={x2} y1={y1} y2={y2} fill={fill} fillOpacity={1} stroke={stroke} strokeWidth={width} radius={2} ifOverflow="visible" />
);

const Txt = ({ x, y, children, size = 33, color = '#000', bold, italic, center }: any) => (
  <div style={{
    position: 'absolute', left: x, top: y, transform: center ? 'translate(-50%,-50%)' : 'translateY(-50%)',
    fontFamily: FONT, fontSize: size, lineHeight: 1, color, whiteSpace: 'nowrap',
    fontWeight: bold ? 'bold' : 'normal', fontStyle: italic ? 'italic' : 'normal',
  }}>{children}</div>
);

const Letter = ({ x, y, width, height, letter }: any) => {
  if (!letter || !height || height <= 0) return <g />;
  return (
    <text
      transform={`translate(${x},${y + height}) scale(${width / LETTER_WIDTH[letter]},${height / 71})`}
      fontSize={100} fontWeight="bold" fontFamily={FONT} fill={LETTER_COLOR[letter]}
    >{letter}</text>
  );
};

const PosTick = ({ x, y, payload }: any) => (
  <text transform={`translate(${x},${y - 5}) rotate(-90)`} textAnchor="end" dominantBaseline="central" fontSize={12} fontWeight="bold" fontFamily={FONT} fill="#000">
    {payload.value}
  </text>
);

const BitsTick = ({ x, y, payload }: any) => (
  <text x={x} y={y} textAnchor="end" dominantBaseline="central" fontSize={14} fontWeight="bold" fontFamily={FONT} fill="#000">
    {payload.value}
  </text>
);

const Logo = ({ stacks, left, top, width, height, axisWidth, right, marginTop, axisHeight }: any) => (
  <div style={{ position: 'absolute', left, top }}>
    <BarChart width={width} height={height} data={buildLogo(stacks)} barCategoryGap={0} barGap={0} margin={{ top: marginTop, right, bottom: 0, left: 0 }}>
      <XAxis dataKey="pos" interval={0} height={axisHeight} axisLine={false} tickLine={false} tick={PosTick} />
      <YAxis type="number" domain={[0, 2]} ticks={bitsTicks} width={axisWidth} stroke="#000" tickSize={5} tick={BitsTick}
        label={{ value: 'bits', angle: -90, position: 'insideLeft', offset: 2, style: { fontFamily: FONT, fontSize: 12, fontWeight: 'bold', fill: '#000' } }} />
      {[0, 1, 2].map((i) => (
        <Bar key={i} dataKey={'h' + i} stackId="logo" isAnimationActive={false}
          shape={(p: any) => <Letter x={p.x} y={p.y} width={p.width} height={p.height} letter={p.payload['l' + i]} />} />
      ))}
    </BarChart>
  </div>
);

export default function App() {
  const aDomain = [-5, 6264];
  const cDomain = [-10, 6115];
  const aStep = 107.6;
  const cStep = 106.75;
  return (
    <div style={{ position: 'absolute', left: 0, top: 0, width: 1876, height: 2727, background: '#fff', overflow: 'hidden' }}>
      {/* tree, species blocks, legend swatches */}
      <Overlay>
        {box(242, 502, 178, 526, C3)}
        {box(242, 502, 586, 1079, C4)}
        {box(243, 502, 1745, 2146, C3)}
        {box(243, 502, 2206, 2699, C4)}
        {treeA.map((s, i) => seg(s, i, '#666', 1.4))}
        {treeC.map((s, i) => seg(s, 100 + i, '#666', 1.4))}
        {dot(187, 309, '#f00', 8)}
        {dot(108, 779, '#00f', 8)}
        {dot(188, 1929.4, '#f00', 8)}
        {dot(109, 2399.4, '#00f', 8)}
        {dot(241, 18, '#f00', 8.5)}
        {dot(241, 109, '#00f', 8.5)}
        {box(563, 580, 9, 26, C3)}
        {box(563, 580, 100, 117, C4)}
        {box(1020, 1073, 10, 26, DARK)}
        {box(1489, 1497, 9, 26, DARK)}
        {box(1505, 1513, 9, 26, DARK)}
        {box(1522, 1530, 9, 26, DARK)}
        {box(1026, 1044, 100, 118, EXON)}
        {box(1262, 1280, 100, 118, UTR)}
        {box(1501, 1518, 100, 118, CNS)}
        {seg([1256, 10, 1272, 26], 200, '#4a3020', 1.3)}
        {seg([1256, 26, 1272, 10], 201, '#4a3020', 1.3)}
        {seg([1272, 10, 1288, 26], 202, '#4a3020', 1.3)}
        {seg([1272, 26, 1288, 10], 203, '#4a3020', 1.3)}
        {seg([1288, 10, 1304, 26], 204, '#4a3020', 1.3)}
        {seg([1288, 26, 1304, 10], 205, '#4a3020', 1.3)}
      </Overlay>

      <GeneModel id="geneA" top={170} domain={aDomain} exons={geneAExons} utrs={geneAUtrs} tss={1992} introEnd={4689} termStart={5273} termEnd={6207}
        boxTop={23} boxBottom={44} barTop={31} barBottom={37} tssTop={11} />
      <GeneModel id="geneC" top={2631} domain={cDomain} exons={geneCExons} utrs={geneCUtrs} tss={1991} introEnd={4655} termStart={5136} termEnd={6085}
        boxTop={24} boxBottom={37} barTop={28} barBottom={33} tssTop={11} />

      {aRows.map((row, i) => (
        <Track key={i} row={row} top={235 + aStep * i} height={aStep} domain={aDomain} last={i === aRows.length - 1} />
      ))}
      {cRows.map((row, i) => (
        <Track key={i} row={row} top={1747 + cStep * i} height={cStep} domain={cDomain} last={i === cRows.length - 1} />
      ))}

      {/* connectors go over the tracks but behind the logo boxes */}
      <Overlay>
        {blueLinks.map((s, i) => seg(s, i, BLUE, 2.4, '2.5 2.5'))}
        {purpleLinks.map((s, i) => seg(s, 10 + i, PURPLE, 2.4, '2.5 2.5'))}
        {brownLinks.map((s, i) => seg(s, 20 + i, BROWN, 2.4, '2.5 2.5'))}
      </Overlay>
      <Overlay>
        {frame(1431.5, 1489.5, 249, 1102, BLUE, 5)}
        {frame(1448.5, 1508.5, 1756.5, 2610.5, BLUE, 5)}
        {frame(1209, 1263.5, 2080, 2610.5, PURPLE, 5)}
        {frame(1681, 1735.5, 2080, 2610.5, BROWN, 5)}
        {frame(544, 1439, 1181, 1386, BLUE, 8, '#fff')}
        {frame(12.5, 908, 1421, 1627, PURPLE, 8, '#fff')}
        {frame(967, 1861.5, 1421, 1627, BROWN, 8, '#fff')}
      </Overlay>

      <Logo stacks={cns1Stacks} left={548} top={1185} width={887} height={197} axisWidth={26.5} right={10.5} marginTop={9} axisHeight={17} />
      <Logo stacks={cns2Stacks} left={17} top={1426} width={887} height={196} axisWidth={30.5} right={5.5} marginTop={10} axisHeight={18} />
      <Logo stacks={cns3Stacks} left={972} top={1426} width={885} height={196} axisWidth={27.5} right={5} marginTop={10} axisHeight={18} />

      <Txt x={42} y={24} size={36} bold center>A</Txt>
      <Txt x={40} y={1163} size={36} bold center>B</Txt>
      <Txt x={42} y={1734} size={36} bold center>C</Txt>

      <Txt x={265} y={17}>Clade BOP</Txt>
      <Txt x={265} y={109}>Clade PACMAD</Txt>
      <Txt x={592} y={17}>C3 species</Txt>
      <Txt x={592} y={109}>C4 species</Txt>
      <Txt x={1088} y={17}>promoter</Txt>
      <Txt x={1316} y={17}>intron</Txt>
      <Txt x={1550} y={17}>terminator</Txt>
      <Txt x={1063} y={107}>exon</Txt>
      <Txt x={1323} y={109}>UTR</Txt>
      <Txt x={1559} y={109}>CNS</Txt>

      <Txt x={1304} y={166} size={43} italic center>SBPase</Txt>
      <Txt x={1308} y={2708} size={43} italic center>SBPase</Txt>
      <Txt x={991} y={1162} size={31} center>CNS 1</Txt>
      <Txt x={460} y={1653} size={31} center>CNS 2</Txt>
      <Txt x={1415} y={1653} size={31} center>CNS 3</Txt>

      {speciesA.map(([name, y, bold]: any, i) => (
        <Txt key={name} x={255} y={y} size={30} italic bold={bold} color={i < 4 ? '#3a4208' : '#54430a'}>{name}</Txt>
      ))}
      {speciesC.map(([name, y, bold]: any, i) => (
        <Txt key={name} x={257} y={y} size={30} italic bold={bold} color={i < 4 ? '#3a4208' : '#54430a'}>{name}</Txt>
      ))}
    </div>
  );
}
